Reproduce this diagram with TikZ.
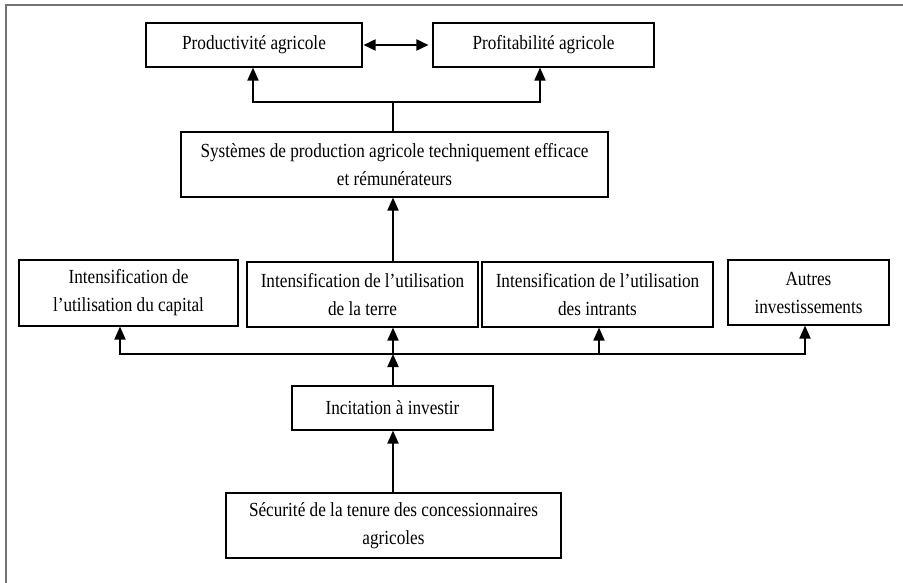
\documentclass[tikz,border=0pt]{standalone}
\usepackage{fontspec}
\setmainfont{Liberation Serif}[FakeStretch=0.86]
\usetikzlibrary{arrows.meta}

\begin{document}
\begin{tikzpicture}[x=1pt,y=-1pt,
  box/.style={draw=black, line width=1.1pt, align=center, inner sep=0pt,
    font=\fontsize{20}{28}\selectfont},
  tip/.style={},
  link/.style={line width=1.8pt, -{Triangle[width=11pt,length=13pt]}},
  both/.style={line width=1.8pt, {Triangle[width=11pt,length=12pt]}-{Triangle[width=11pt,length=12pt]}},
  wire/.style={line width=1.8pt},
  frame/.style={draw=black!55, line width=2pt}]

\useasboundingbox (0,0) rectangle (903,583);
\draw[frame] (6,583) -- (6,5) -- (903,5);

% top row
\node[box, minimum width=216pt, minimum height=44pt] (prod) at (254,45) {Productivité agricole};
\node[box, minimum width=221pt, minimum height=44pt] (prof) at (543.5,45) {Profitabilité agricole};

% production systems
\node[box, minimum width=427pt, minimum height=65pt] (sys) at (394.5,164.5)
  {Systèmes de production agricole techniquement efficace\\et rémunérateurs};

% intensification row
\node[box, minimum width=219pt, minimum height=66pt] (cap) at (128.5,293)
  {Intensification de\\l’utilisation du capital};
\node[box, minimum width=231pt, minimum height=65pt] (terre) at (362.5,294.5)
  {Intensification de l’utilisation\\de la terre};
\node[box, minimum width=231pt, minimum height=65pt] (intr) at (597.5,294.5)
  {Intensification de l’utilisation\\des intrants};
\node[box, minimum width=161pt, minimum height=65pt] (autres) at (808.5,292.5)
  {Autres\\investissements};

% incentive and tenure
\node[box, minimum width=201pt, minimum height=44pt] (incit) at (392.5,408) {Incitation à investir};
\node[box, minimum width=335pt, minimum height=65pt] (secu) at (393.5,525.5)
  {Sécurité de la tenure des concessionnaires\\agricoles};

% junction points
\coordinate (topj) at (393,102);
\coordinate (busj) at (393,354);

% connectors
\draw[both, shorten <=1pt, shorten >=4pt] (prod.east) -- (prof.west);
\draw[wire] (sys.north -| topj) -- (topj);
\draw[link] (topj) -| ([xshift=-1pt]prod.south);
\draw[link] (topj) -| ([xshift=-3.5pt]prof.south);
\draw[link] (terre.north -| topj) -- (sys.south -| topj);

\draw[link] (incit.north -| busj) -- (busj);
\draw[link] (busj) -| ([xshift=-8.5pt]cap.south);
\draw[link] (busj) -- (terre.south -| busj);
\draw[link] (busj) -| ([xshift=1.5pt]intr.south);
\draw[link] (busj) -| ([xshift=-3.5pt]autres.south);

\draw[link] (secu.north -| busj) -- (incit.south -| busj);
\end{tikzpicture}
\end{document}
